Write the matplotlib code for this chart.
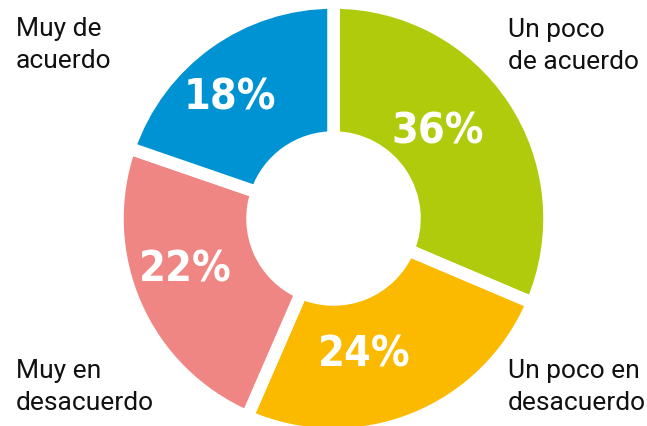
import matplotlib
matplotlib.use("Agg")
import matplotlib.pyplot as plt

# data
categories = ["Un poco\nde acuerdo", "Un poco en\ndesacuerdo", "Muy en\ndesacuerdo", "Muy de\nacuerdo"]
values = [36, 24, 22, 18]
# the drawn slices in the original are not proportional to the labels;
# arc sizes (degrees)
arc_deg = [113, 90.5, 85.5, 71]
colors = ["#b0cb0b", "#fbba00", "#f08683", "#0093d3"]

W, H = 647, 427
cx, cy = 333.5, H - 219.5
R = 216
ring = 135

fig = plt.figure(figsize=(W / 100, H / 100), dpi=100)
ax = fig.add_axes([0, 0, 1, 1])

wedges, _ = ax.pie(arc_deg, colors=colors, startangle=90, counterclock=False,
                   center=(cx, cy), radius=R,
                   wedgeprops=dict(width=ring, edgecolor="white", linewidth=9,
                                   joinstyle="miter"))
ax.set_xlim(0, W)
ax.set_ylim(0, H)
ax.axis("off")

# percentage labels (placed by hand like the original)
pct_pos = [(438, 131), (364, 355), (185, 270), (230, 98)]
for v, (x, y) in zip(values, pct_pos):
    ax.text(x, H - y, f"{v}%", ha="center", va="center", color="white",
            fontsize=31, fontweight="bold", fontstretch="condensed",
            family=["DejaVu Sans"])

# category labels in the corners
lab_pos = [(508, 18, "top"), (508, 410, "baseline"), (16, 410, "baseline"), (16, 17, "top")]
for txt, (x, y, va) in zip(categories, lab_pos):
    ax.text(x, H - y, txt, ha="left", va=va, fontsize=19, color="#111111",
            family=["Roboto", "DejaVu Sans"], linespacing=1.42)

fig.savefig("out.png", dpi=100)
